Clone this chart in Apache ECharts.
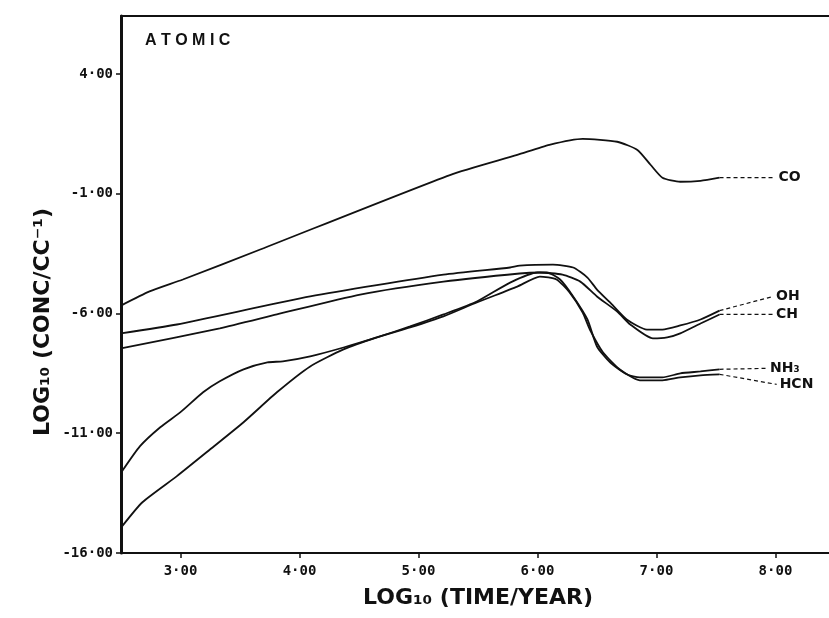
<!DOCTYPE html>
<html>
<head>
<meta charset="utf-8">
<script src="https://cdn.jsdelivr.net/npm/echarts@6/dist/echarts.min.js"></script>
<style>
  html, body { margin: 0; padding: 0; background: #fff; }
  #chart { width: 829px; height: 618px; }
</style>
</head>
<body>
<div id="chart"></div>
<script>
// log10(time/year) against log10(conc/cc^-1)
const co = [[2.5, -5.67], [2.74, -5.08], [3.02, -4.58], [3.67, -3.33], [5.27, -0.21], [5.83, 0.62],
  [6.1, 1.04], [6.38, 1.29], [6.67, 1.17], [6.84, 0.83], [6.95, 0.21], [7.05, -0.33], [7.2, -0.5],
  [7.37, -0.46], [7.53, -0.33]];
const oh = [[2.5, -6.83], [2.97, -6.46], [4.09, -5.29], [5.21, -4.38], [5.77, -4.08], [5.85, -4.0],
  [6.13, -3.96], [6.3, -4.08], [6.42, -4.5], [6.5, -5.0], [6.61, -5.54], [6.75, -6.25], [6.92, -6.67],
  [7.05, -6.67], [7.2, -6.5], [7.37, -6.25], [7.53, -5.88]];
const ch = [[2.5, -7.46], [3.33, -6.62], [3.81, -6.04], [4.51, -5.21], [5.21, -4.67], [5.85, -4.33],
  [6.02, -4.29], [6.21, -4.38], [6.36, -4.67], [6.5, -5.29], [6.67, -5.92], [6.78, -6.46], [6.97, -7.04],
  [7.09, -7.0], [7.2, -6.83], [7.37, -6.42], [7.53, -6.04]];
const nh3 = [[2.51, -12.58], [2.66, -11.54], [2.83, -10.75], [3.0, -10.12], [3.19, -9.29], [3.33, -8.83],
  [3.53, -8.33], [3.73, -8.04], [3.86, -8.0], [4.09, -7.79], [4.37, -7.42], [4.65, -7.0], [4.93, -6.54],
  [5.21, -6.04], [5.49, -5.5], [5.77, -4.71], [6.0, -4.29], [6.08, -4.29], [6.19, -4.58],
  [6.3, -5.29], [6.42, -6.25], [6.5, -7.38], [6.61, -8.04], [6.75, -8.54], [6.86, -8.67], [7.05, -8.67],
  [7.2, -8.5], [7.37, -8.42], [7.53, -8.33]];
const hcn = [[2.51, -14.88], [2.68, -13.88], [2.97, -12.79], [3.25, -11.67], [3.53, -10.54], [3.81, -9.29],
  [4.09, -8.21], [4.37, -7.5], [4.65, -7.0], [4.93, -6.58], [5.21, -6.12], [5.49, -5.54], [5.83, -4.88],
  [6.02, -4.46], [6.16, -4.58], [6.27, -5.12], [6.38, -5.96], [6.44, -6.67], [6.55, -7.62], [6.69, -8.33],
  [6.86, -8.79], [7.05, -8.79], [7.2, -8.67], [7.37, -8.58], [7.53, -8.54]];

// dashed leaders out to the species names
const coLead = [[7.53, -0.33], [8.0, -0.33]];
const ohLead = [[7.53, -5.88], [7.98, -5.29]];
const chLead = [[7.53, -6.04], [7.98, -6.04]];
const nh3Lead = [[7.53, -8.33], [7.93, -8.29]];
const hcnLead = [[7.53, -8.54], [8.01, -8.96]];

const xTicks = [3, 4, 5, 6, 7, 8];
const yTicks = [-16, -11, -6, -1, 4];

const ink = '#111';
const tickFont = { color: ink, fontFamily: 'DejaVu Sans Mono', fontWeight: 'bold', fontSize: 14 };

function fmt(v) {
  return v.toFixed(2).replace('.', '\u00b7');
}

function curve(name, data) {
  return {
    name: name, type: 'line', data: data, showSymbol: false, silent: true,
    smooth: 0.2,
    lineStyle: { color: ink, width: 1.8 }
  };
}

function lead(name, data, text) {
  return {
    name: name + ' lead', type: 'line', data: data, showSymbol: false, silent: true,
    lineStyle: { color: ink, width: 1.2, type: [4, 3] },
    endLabel: {
      show: true, formatter: text, distance: 3,
      color: ink, fontFamily: 'DejaVu Sans', fontWeight: 'bold', fontSize: 14
    }
  };
}

const chart = echarts.init(document.getElementById('chart'));
chart.setOption({
  animation: false,
  backgroundColor: '#fff',
  grid: { left: 121, right: 0, top: 16, bottom: 65, containLabel: false },
  xAxis: [{
    type: 'value', min: 2.5, max: 8.45,
    axisLine: { onZero: false, lineStyle: { color: ink, width: 2 } },
    axisTick: { customValues: xTicks, length: 5, lineStyle: { color: ink, width: 1.5 } },
    axisLabel: Object.assign({ customValues: xTicks, margin: 11, formatter: fmt }, tickFont),
    splitLine: { show: false }
  }, {
    type: 'value', position: 'top', min: 2.5, max: 8.45,
    axisLine: { onZero: false, lineStyle: { color: ink, width: 2 } },
    axisTick: { show: false }, axisLabel: { show: false }, splitLine: { show: false }
  }],
  yAxis: {
    type: 'value', min: -16, max: 6.42,
    axisLine: { show: true, onZero: false, lineStyle: { color: ink, width: 3 } },
    axisTick: { show: true, customValues: yTicks, length: 5, lineStyle: { color: ink, width: 1.5 } },
    axisLabel: Object.assign({ customValues: yTicks, margin: 8, formatter: fmt }, tickFont),
    splitLine: { show: false }
  },
  graphic: [
    {
      type: 'text', x: 145, y: 41,
      style: {
        text: 'A T O M I C', fill: ink, font: 'bold 16px "Liberation Sans"',
        align: 'left', verticalAlign: 'middle'
      }
    },
    {
      type: 'text', x: 478, y: 598,
      style: {
        text: 'LOG\u2081\u2080 (TIME/YEAR)', fill: ink, font: 'bold 22px "DejaVu Sans"',
        align: 'center', verticalAlign: 'middle'
      }
    },
    {
      type: 'text', x: 43, y: 322, rotation: Math.PI / 2,
      style: {
        text: 'LOG\u2081\u2080 (CONC/CC\u207b\u00b9)', fill: ink, font: 'bold 22px "DejaVu Sans"',
        align: 'center', verticalAlign: 'middle'
      }
    }
  ],
  series: [
    curve('CO', co), curve('OH', oh), curve('CH', ch), curve('NH3', nh3), curve('HCN', hcn),
    lead('CO', coLead, 'CO'), lead('OH', ohLead, 'OH'), lead('CH', chLead, 'CH'),
    lead('NH3', nh3Lead, 'NH\u2083'), lead('HCN', hcnLead, 'HCN')
  ]
});
</script>
</body>
</html>
